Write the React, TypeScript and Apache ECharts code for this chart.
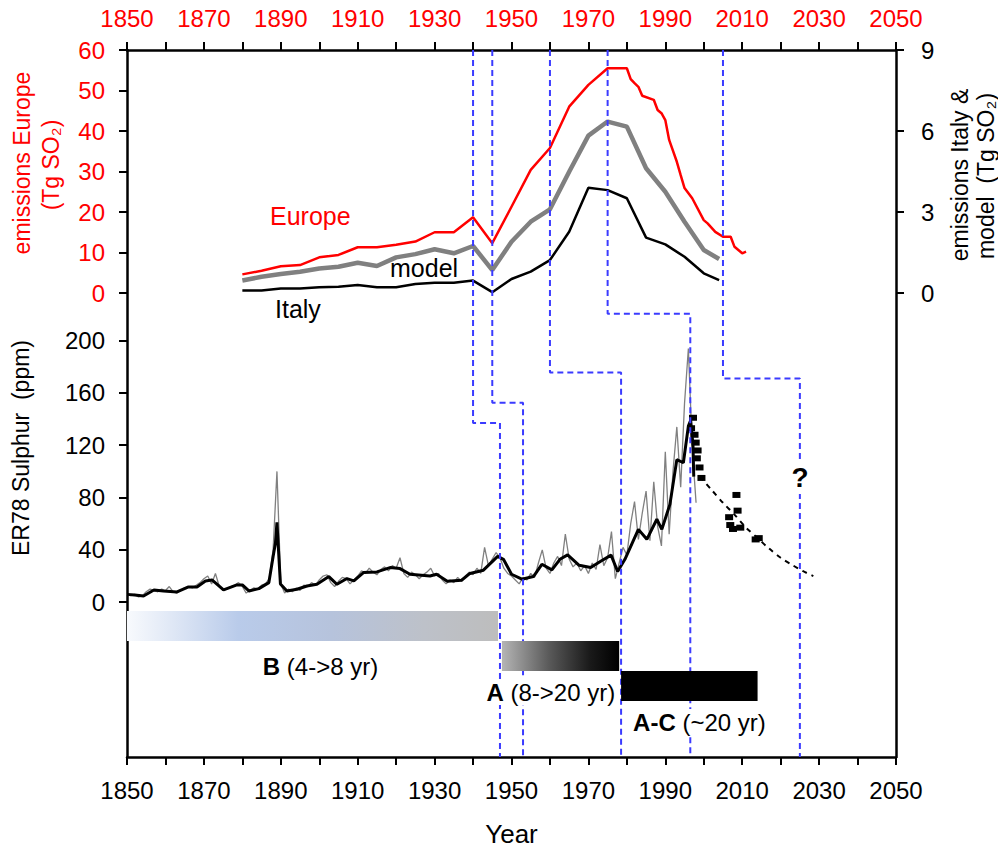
import React, { useEffect, useRef } from 'react';
import * as echarts from 'echarts';

const FONT = '"Liberation Sans", Arial, Helvetica, sans-serif';

// ---------- x scale ----------
const YEAR_MIN = 1850;
const YEAR_MAX = 2050;
const YEAR_TICK = 10;

// ---------- emissions (top panel) ----------
const EUROPE: [number, number][] = [
  [1880, 4.6], [1885, 5.5], [1890, 6.6], [1895, 6.9], [1900, 8.8], [1905, 9.4],
  [1910, 11.3], [1915, 11.3], [1920, 11.9], [1925, 12.7], [1930, 15.0], [1935, 15.0],
  [1940, 18.7], [1945, 12.3], [1950, 21.3], [1955, 30.4], [1960, 35.8], [1965, 46.0],
  [1970, 51.4], [1975, 55.5], [1980, 55.5], [1981, 52.8], [1982, 51.8], [1983, 50.9],
  [1984, 48.7], [1987, 47.7], [1988, 45.2], [1989, 44.4], [1990, 42.7], [1991, 37.8],
  [1993, 32.4], [1994, 29.1], [1995, 25.9], [1997, 23.4], [2000, 18.0], [2001, 17.2],
  [2003, 15.1], [2005, 13.9], [2007, 13.9], [2008, 11.4], [2010, 9.8], [2011, 10.2],
];
const MODEL: [number, number][] = [
  [1880, 0.46], [1885, 0.6], [1890, 0.7], [1895, 0.79], [1900, 0.91], [1905, 0.97],
  [1910, 1.12], [1915, 1.0], [1920, 1.32], [1925, 1.44], [1930, 1.62], [1935, 1.47],
  [1940, 1.74], [1945, 0.85], [1950, 1.9], [1955, 2.64], [1960, 3.1], [1965, 4.49],
  [1970, 5.83], [1975, 6.35], [1980, 6.16], [1985, 4.62], [1990, 3.75], [1995, 2.64],
  [2000, 1.59], [2004, 1.26],
];
const ITALY: [number, number][] = [
  [1880, 0.09], [1885, 0.09], [1890, 0.17], [1895, 0.17], [1900, 0.21], [1905, 0.23],
  [1910, 0.3], [1915, 0.21], [1920, 0.21], [1925, 0.33], [1930, 0.38], [1935, 0.38],
  [1940, 0.46], [1945, 0.03], [1950, 0.52], [1955, 0.79], [1960, 1.22], [1965, 2.27],
  [1970, 3.9], [1975, 3.81], [1980, 3.51], [1985, 2.05], [1990, 1.8], [1995, 1.34],
  [2000, 0.73], [2004, 0.48],
];
const EUROPE_TICKS = { min: 0, max: 60, interval: 10 };
const ITALY_TICKS = { min: 0, max: 9, interval: 3 };

// ---------- ER78 sulphur (lower panel), ppm ----------
const SULPHUR_FIRST_YEAR = 1850;
const SULPHUR_ANNUAL = [
  6, 5, 6, 4, 5, 8, 10, 9, 8, 10,
  9, 12, 8, 7, 9, 11, 12, 11, 13, 15,
  18, 20, 14, 22, 12, 9, 10, 12, 13, 15,
  12, 7, 9, 11, 10, 13, 14, 18, 40, 100,
  14, 7, 10, 8, 11, 9, 13, 12, 15, 13,
  17, 20, 21, 15, 12, 16, 19, 18, 14, 17,
  20, 24, 22, 26, 23, 21, 25, 27, 24, 28,
  26, 34, 22, 19, 23, 21, 18, 21, 23, 26,
  20, 22, 17, 14, 17, 15, 19, 16, 20, 23,
  21, 26, 22, 42, 28, 33, 38, 34, 26, 22,
  20, 17, 14, 19, 17, 22, 19, 30, 40, 26,
  22, 30, 35, 28, 52, 33, 27, 30, 24, 28,
  22, 30, 25, 44, 28, 34, 54, 18, 30, 42,
  36, 60, 77, 48, 68, 85, 47, 92, 58, 43,
  115, 52, 100, 134, 88, 152, 194, 118, 76,
];
const SULPHUR_SMOOTH: [number, number][] = [
  [1850, 6], [1852, 5.5], [1854.3, 4.8], [1857, 9.4], [1859.5, 8.6], [1863, 7.9],
  [1866, 11.7], [1868.2, 11.7], [1870.4, 16.3], [1872.1, 17], [1875.1, 9.4],
  [1878.6, 13.2], [1880, 13.2], [1881.7, 8.6], [1884.3, 10.4], [1886.9, 15],
  [1888, 35], [1888.6, 45], [1889, 61], [1889.4, 40], [1889.9, 14], [1891.6, 8.6],
  [1894.2, 9.9], [1896.8, 12.4], [1899.4, 13.7], [1902.5, 19.6], [1904.6, 13.7],
  [1907.2, 18.1], [1909, 16.3], [1911.5, 22.7], [1915, 23.2], [1918.4, 26.5],
  [1921, 25.7], [1923.6, 21.4], [1928.8, 20.1], [1930.5, 21.4], [1933.3, 16],
  [1937, 16.8], [1939.2, 22], [1942.7, 24.5], [1946.4, 35], [1947.9, 32.8],
  [1950, 21.4], [1952.7, 17.6], [1955.7, 19.6], [1957.9, 29], [1960.5, 24.7],
  [1962.6, 32.8], [1964.6, 36.2], [1967.6, 28.2], [1970.6, 26.5], [1973.3, 31.5],
  [1975.9, 36], [1977.6, 23.5], [1979.5, 32.8], [1983, 55.7], [1985.2, 48.1],
  [1987.8, 63.4], [1989.1, 55.7], [1991.2, 74.8], [1993, 109], [1994.7, 106.6],
  [1996, 134.6], [1996.6, 139], [1997.2, 120], [1997.4, 96],
];
const RECENT_SAMPLES: [number, number][] = [
  [1997.2, 141], [1996.7, 133], [1997.6, 128], [1997.9, 122], [1998.4, 116],
  [1998.2, 110], [1998.9, 103], [1999.4, 95],
  [2008.5, 82], [2008.8, 70], [2006.6, 65], [2006.9, 59], [2007.6, 56],
  [2009.5, 57], [2013.5, 48], [2014.3, 49],
];
const DECAY_TREND: [number, number][] = [
  [1999, 96], [2002, 86], [2005, 76], [2008, 67], [2011, 57], [2014, 49],
  [2017, 41], [2020, 34], [2023, 28.5], [2026, 23.5], [2028.5, 20],
];
const SULPHUR_TICKS = [0, 40, 80, 120, 160, 200];
// frame y-range expressed in ppm (the sulphur scale extended over the whole box)
const PPM_MIN = -118.3;
const PPM_MAX = 422.1;

// ---------- lag lines (emission year -> ice year, step level in ppm) ----------
const LAG_START = [1940, 1945, 1960, 1975, 2005];
const LAG_END = [1947, 1953, 1978.5, 1996.5, 2025];
const LAG_LEVEL = [137, 152.5, 175.5, 220.5, 171];

// ---------- residence-time regimes ----------
const REGIME_NAMES = ['B', 'A', 'A-C'];
const REGIME_DESC = ['(4->8 yr)', '(8->20 yr)', '(~20 yr)'];
const REGIME_START = [1850, 1947.5, 1978.5];
const REGIME_END = [1946.5, 1978, 2014];

export default function App() {
  const ref = useRef<HTMLDivElement>(null);

  useEffect(() => {
    if (!ref.current) return;
    const chart = echarts.init(ref.current, undefined, { renderer: 'svg' });

    const regimeFills = [
      new echarts.graphic.LinearGradient(0, 0, 1, 0, [
        { offset: 0, color: '#f8fafd' },
        { offset: 0.1, color: '#e4ebf7' },
        { offset: 0.3, color: '#b9cbea' },
        { offset: 0.55, color: '#b6c3dc' },
        { offset: 0.8, color: '#bdc1c9' },
        { offset: 1, color: '#bdbdbd' },
      ]),
      new echarts.graphic.LinearGradient(0, 0, 1, 0, [
        { offset: 0, color: '#b5b5b5' },
        { offset: 0.4, color: '#5a5a5a' },
        { offset: 0.75, color: '#1a1a1a' },
        { offset: 1, color: '#000000' },
      ]),
      '#000000',
    ];
    const labelAlign = ['center', 'right', 'left'];

    const TICK_FONT = 24;
    const tickStyle = { show: true, inside: false, length: 8, lineStyle: { color: '#000', width: 2 } };
    const frameLine = { show: true, onZero: false, lineStyle: { color: '#000', width: 2.5 } };
    const yearFmt = (v: number) => ((v - YEAR_MIN) % 20 === 0 ? String(v) : '');

    const lagSeries = LAG_START.map((s, i) => ({
      type: 'line',
      name: 'lag' + i,
      xAxisIndex: 0,
      yAxisIndex: 0,
      data: [[s, PPM_MAX], [s, LAG_LEVEL[i]], [LAG_END[i], LAG_LEVEL[i]], [LAG_END[i], PPM_MIN]],
      symbol: 'none',
      lineStyle: { color: '#3b3bff', width: 2, type: [6, 4] },
      z: 3,
      silent: true,
    }));

    const txt = (text: string, x: number, y: number, opts: any = {}) => ({
      type: 'text',
      x,
      y,
      rotation: opts.rotation || 0,
      z: 100,
      style: {
        text,
        fill: opts.color || '#000',
        fontSize: opts.size || 23,
        fontFamily: FONT,
        fontWeight: opts.weight || 'normal',
        align: opts.align || 'center',
        textAlign: opts.align || 'center',
        verticalAlign: 'middle',
        textVerticalAlign: 'middle',
        backgroundColor: opts.bg,
        padding: opts.pad,
      },
    });

    chart.setOption({
      animation: false,
      textStyle: { fontFamily: FONT },
      grid: [
        { left: 127, top: 50, width: 769, height: 708 },
        { left: 127, top: 50, width: 769, height: 243 },
        { left: 127, top: 611, width: 769, height: 90 },
      ],
      xAxis: [
        {
          type: 'value', gridIndex: 0, position: 'bottom', min: YEAR_MIN, max: YEAR_MAX, interval: YEAR_TICK,
          axisLine: frameLine, axisTick: tickStyle, splitLine: { show: false },
          axisLabel: { fontSize: TICK_FONT, color: '#000', margin: 21, formatter: yearFmt },
          name: 'Year', nameLocation: 'middle', nameGap: 64,
          nameTextStyle: { fontSize: 26, color: '#000', fontFamily: FONT },
        },
        {
          type: 'value', gridIndex: 0, position: 'top', min: YEAR_MIN, max: YEAR_MAX, interval: YEAR_TICK,
          axisLine: frameLine, axisTick: tickStyle, splitLine: { show: false },
          axisLabel: { fontSize: TICK_FONT, color: '#ff0000', margin: 20, formatter: yearFmt },
        },
        { type: 'value', gridIndex: 1, min: YEAR_MIN, max: YEAR_MAX, show: false },
        { type: 'value', gridIndex: 2, min: YEAR_MIN, max: YEAR_MAX, show: false },
      ],
      yAxis: [
        {
          type: 'value', gridIndex: 0, position: 'left', min: PPM_MIN, max: PPM_MAX,
          axisLine: frameLine, splitLine: { show: false },
          axisTick: { ...tickStyle, customValues: SULPHUR_TICKS },
          axisLabel: { fontSize: TICK_FONT, color: '#000', margin: 22, customValues: SULPHUR_TICKS },
        },
        {
          type: 'value', gridIndex: 0, position: 'right', min: PPM_MIN, max: PPM_MAX,
          axisLine: frameLine, splitLine: { show: false },
          axisTick: { show: false }, axisLabel: { show: false },
        },
        {
          type: 'value', gridIndex: 1, position: 'left', ...EUROPE_TICKS,
          axisLine: { show: false }, axisTick: tickStyle, splitLine: { show: false },
          axisLabel: { fontSize: TICK_FONT, color: '#ff0000', margin: 22 },
        },
        {
          type: 'value', gridIndex: 1, position: 'right', ...ITALY_TICKS,
          axisLine: { show: false }, axisTick: tickStyle, splitLine: { show: false },
          axisLabel: { fontSize: TICK_FONT, color: '#000', margin: 25 },
        },
        { type: 'category', gridIndex: 2, data: REGIME_NAMES, inverse: true, show: false },
      ],
      series: [
        {
          type: 'line', name: 'Europe', xAxisIndex: 2, yAxisIndex: 2, data: EUROPE,
          symbol: 'none', lineStyle: { color: '#ff0000', width: 2.5 }, z: 2,
        },
        {
          type: 'line', name: 'model', xAxisIndex: 2, yAxisIndex: 3, data: MODEL,
          symbol: 'none', lineStyle: { color: '#808080', width: 4.5 }, z: 2,
        },
        {
          type: 'line', name: 'Italy', xAxisIndex: 2, yAxisIndex: 3, data: ITALY,
          symbol: 'none', lineStyle: { color: '#000000', width: 2.5 }, z: 2,
        },
        {
          type: 'line', name: 'ER78 annual', xAxisIndex: 0, yAxisIndex: 0,
          data: SULPHUR_ANNUAL.map((v, i) => [SULPHUR_FIRST_YEAR + i, v]),
          symbol: 'none', lineStyle: { color: '#808080', width: 1.3 }, z: 2,
        },
        {
          type: 'line', name: 'ER78 smoothed', xAxisIndex: 0, yAxisIndex: 0, data: SULPHUR_SMOOTH,
          symbol: 'none', lineStyle: { color: '#000000', width: 3 }, z: 2,
        },
        {
          type: 'scatter', name: 'recent', xAxisIndex: 0, yAxisIndex: 0, data: RECENT_SAMPLES,
          symbol: 'rect', symbolSize: [8, 6], itemStyle: { color: '#000', opacity: 1 }, z: 2,
        },
        {
          type: 'line', name: 'trend', xAxisIndex: 0, yAxisIndex: 0, data: DECAY_TREND, smooth: 0.3,
          symbol: 'none', lineStyle: { color: '#000', width: 2, type: [5, 5] }, z: 2,
        },
        ...lagSeries,
        {
          type: 'custom', name: 'regimes', xAxisIndex: 3, yAxisIndex: 4, z: 5,
          data: REGIME_START.map((s, i) => [s, REGIME_END[i], i]),
          encode: { x: [0, 1], y: 2 },
          renderItem: (params: any, api: any) => {
            const i = params.dataIndex;
            const p0 = api.coord([api.value(0), api.value(2)]);
            const p1 = api.coord([api.value(1), api.value(2)]);
            const h = api.size([0, 1])[1];
            const top = p0[1] - h / 2;
            const bottom = p0[1] + h / 2;
            const align = labelAlign[i];
            const lx = align === 'center' ? (p0[0] + p1[0]) / 2 + 8 : align === 'right' ? p1[0] - 2 : p0[0] + 10;
            const ly = bottom + (i === 0 ? 25 : 21);
            return {
              type: 'group',
              children: [
                {
                  type: 'rect',
                  shape: { x: p0[0], y: top, width: p1[0] - p0[0], height: h },
                  style: { fill: regimeFills[i] },
                },
                {
                  type: 'text',
                  style: {
                    text: `{b|${REGIME_NAMES[i]}} ${REGIME_DESC[i]}`,
                    x: lx, y: ly, align, verticalAlign: 'middle',
                    fontSize: 24, fontFamily: FONT, fill: '#000',
                    backgroundColor: '#fff', padding: [1, 2],
                    rich: { b: { fontWeight: 'bold', fontSize: 24, fontFamily: FONT, fill: '#000' } },
                  },
                },
              ],
            };
          },
        },
      ],
      graphic: [
        txt('emissions Europe', 22, 163, { color: '#ff0000', rotation: Math.PI / 2 }),
        txt('(Tg SO\u2082)', 51, 165, { color: '#ff0000', rotation: Math.PI / 2 }),
        txt('emissions Italy &', 960, 175, { rotation: Math.PI / 2 }),
        txt('model  (Tg SO\u2082)', 986, 176, { rotation: Math.PI / 2 }),
        txt('ER78 Sulphur  (ppm)', 21, 448, { rotation: Math.PI / 2 }),
        txt('Europe', 270, 216, { color: '#ff0000', size: 25, align: 'left' }),
        txt('model', 390, 268, { size: 25, align: 'left' }),
        txt('Italy', 275, 309, { size: 25, align: 'left' }),
        txt('?', 800, 477, { size: 28, weight: 'bold', bg: '#fff', pad: [3, 3] }),
      ],
    });

    return () => chart.dispose();
  }, []);

  return <div ref={ref} style={{ position: 'fixed', left: 0, top: 0, width: 998, height: 852, background: '#fff' }} />;
}
